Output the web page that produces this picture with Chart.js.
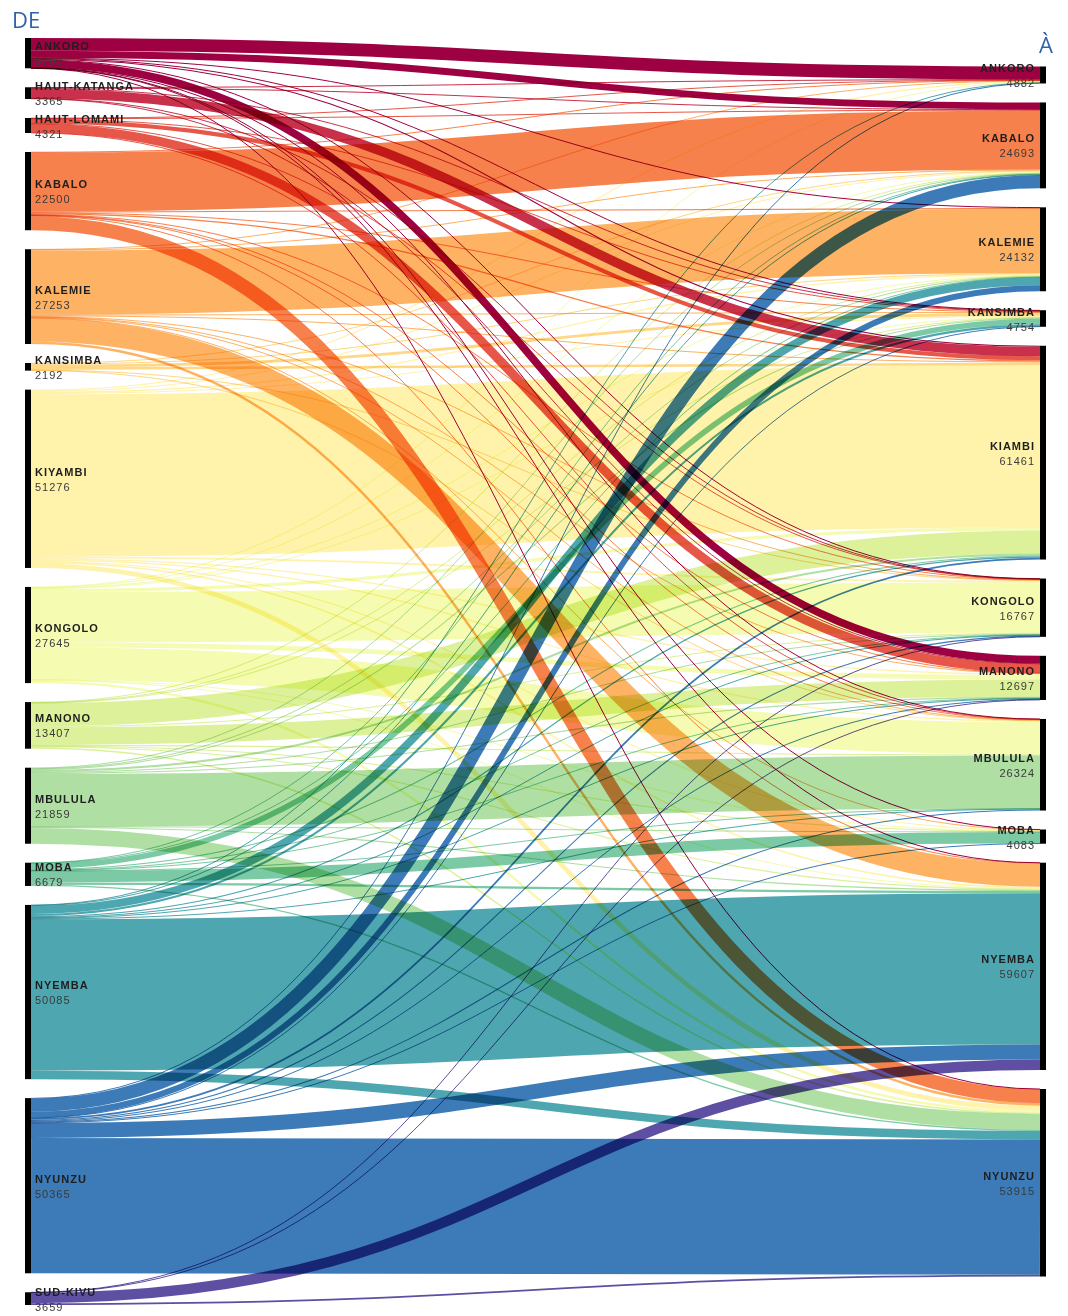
<!DOCTYPE html>
<html>
<head>
<meta charset="utf-8">
<title>DE / À</title>
<script src="https://cdn.jsdelivr.net/npm/chart.js@4.4.1/dist/chart.umd.min.js"></script>
<style>
  html, body { margin: 0; padding: 0; background: #fff; }
  #wrap { width: 1068px; height: 1316px; position: relative; }
</style>
</head>
<body>
<div id="wrap"><canvas id="flowChart"></canvas></div>
<script>
// ── Data ───────────────────────────────────────────────────
const sourceNames = ['ANKORO', 'HAUT-KATANGA', 'HAUT-LOMAMI', 'KABALO', 'KALEMIE', 'KANSIMBA', 'KIYAMBI',
                     'KONGOLO', 'MANONO', 'MBULULA', 'MOBA', 'NYEMBA', 'NYUNZU', 'SUD-KIVU'];
const targetNames = ['ANKORO', 'KABALO', 'KALEMIE', 'KANSIMBA', 'KIAMBI', 'KONGOLO', 'MANONO',
                     'MBULULA', 'MOBA', 'NYEMBA', 'NYUNZU'];

// flows out of each source, in targetNames order (estimated)
const fromAnkoro      = [3700, 2000,   150,  100,   300,   100,  2200,    50,   30,    50,    29];
const fromHautKatanga = [ 150,  150,     0,  150,  2705,    60,   150,     0,    0,     0,     0];
const fromHautLomami  = [ 102,  143,     0,  154,  1182,    60,  2600,    80,    0,     0,     0];
const fromKabalo      = [ 150, 17000,  300,  150,   350,   150,   100,   100,    0,   150,  4050];
const fromKalemie     = [ 100,  300, 18400,  200,   300,   150,   100,   200,  100,  6700,   703];
const fromKansimba    = [   0,  200,   300,  800,   692,   100,     0,   100,    0,     0,     0];
const fromKiyambi     = [ 330,  300,   382,  300, 46691,   500,   350,   350,  300,   430,  1343];
const fromKongolo     = [ 100,  200,   150,  200,   862, 14497,  1297,  9344,  100,   200,   695];
const fromManono      = [   0,  100,   150,  100,  6650,   300,  5000,   300,  100,   300,   407];
const fromMbulula     = [   0,  200,   200,  300,   550,   200,   300, 15200,  100,   300,  4509];
const fromMoba        = [   0,  100,   100, 1600,   330,   100,   100,   100, 3238,   662,   349];
const fromNyemba      = [ 100,  200,  2300,  600,   350,   200,   200,   200,    0, 43500,  2435];
const fromNyunzu      = [ 150, 3800,  1700,  100,   499,   300,   200,   300,  115,  4315, 38886];
const fromSudKivu     = [   0,    0,     0,    0,     0,    50,   100,     0,    0,  3000,   509];

const flowRows = [fromAnkoro, fromHautKatanga, fromHautLomami, fromKabalo, fromKalemie, fromKansimba,
                  fromKiyambi, fromKongolo, fromManono, fromMbulula, fromMoba, fromNyemba, fromNyunzu, fromSudKivu];

// ── Colours (spectral ramp) ────────────────────────────────
const spectralStops = ['#9e0142', '#d53e4f', '#f46d43', '#fdae61', '#fee08b', '#ffffbf',
                       '#e6f598', '#abdda4', '#66c2a5', '#3288bd', '#5e4fa2'];
function hexRgb(h) { return [1, 3, 5].map(i => parseInt(h.substr(i, 2), 16)); }
function spectral(t) {
  const s = t * (spectralStops.length - 1);
  const i = Math.min(spectralStops.length - 2, Math.floor(s));
  const f = s - i;
  const a = hexRgb(spectralStops[i]), b = hexRgb(spectralStops[i + 1]);
  const c = a.map((v, k) => Math.round(v + (b[k] - v) * f));
  return `rgb(${c[0]},${c[1]},${c[2]})`;
}
const sourceColors = sourceNames.map((_, i) => spectral(i / (sourceNames.length - 1)));

// ── Layout helpers ─────────────────────────────────────────
const NODE_GAP = 5460;   // gap between nodes, in flow units
const NODE_W = 6;        // px

const sum = a => a.reduce((s, v) => s + v, 0);
const srcTotals = flowRows.map(sum);
const tgtTotals = targetNames.map((_, j) => sum(flowRows.map(r => r[j])));
const leftSpan = sum(srcTotals) + (srcTotals.length - 1) * NODE_GAP;
const rightSpan = sum(tgtTotals) + (tgtTotals.length - 1) * NODE_GAP;
const yMax = Math.max(leftSpan, rightSpan);

function stackNodes(totals, span) {
  let y = (yMax - span) / 2;
  return totals.map(v => {
    const n = { y0: y, y1: y + v, value: v };
    y += v + NODE_GAP;
    return n;
  });
}
const leftNodes = stackNodes(srcTotals, leftSpan);
const rightNodes = stackNodes(tgtTotals, rightSpan);

// links: ordered by target at the source, by source at the target
const links = [];
flowRows.forEach((row, i) => {
  let cur = leftNodes[i].y0;
  row.forEach((v, j) => {
    if (v <= 0) return;
    links.push({ s: i, t: j, value: v, sy: cur + v / 2 });
    cur += v;
  });
});
targetNames.forEach((_, j) => {
  let cur = rightNodes[j].y0;
  links.filter(l => l.t === j).sort((a, b) => a.s - b.s).forEach(l => {
    l.ty = cur + l.value / 2;
    cur += l.value;
  });
});

// ── Sankey drawing plugin ──────────────────────────────────
const sankeyPlugin = {
  id: 'sankey',
  beforeDraw(chart) {
    const ctx = chart.ctx;
    ctx.save();
    ctx.fillStyle = '#fff';
    ctx.fillRect(0, 0, chart.width, chart.height);
    ctx.restore();
  },
  afterDraw(chart) {
    const { ctx, scales: { x, y } } = chart;
    const xl = x.getPixelForValue(0);
    const xr = x.getPixelForValue(1);
    const lx = xl + NODE_W, rx = xr - NODE_W;
    const xm = (lx + rx) / 2;

    // flows
    ctx.save();
    ctx.globalCompositeOperation = 'multiply';
    ctx.lineCap = 'butt';
    links.forEach(l => {
      const y0 = y.getPixelForValue(l.sy);
      const y1 = y.getPixelForValue(l.ty);
      const w = Math.abs(y.getPixelForValue(l.value) - y.getPixelForValue(0));
      ctx.beginPath();
      ctx.moveTo(lx, y0);
      ctx.bezierCurveTo(xm, y0, xm, y1, rx, y1);
      ctx.strokeStyle = sourceColors[l.s];
      ctx.lineWidth = Math.max(1, w);
      ctx.stroke();
    });
    ctx.restore();

    // node bars + labels
    ctx.save();
    const drawLabel = (name, value, px, mid, align) => {
      ctx.textAlign = align;
      ctx.textBaseline = 'middle';
      ctx.letterSpacing = '1px';
      ctx.fillStyle = '#1e1e1e';
      ctx.font = 'bold 11px "Liberation Sans", Arial, sans-serif';
      ctx.fillText(name, px, mid - 6);
      ctx.fillStyle = '#3a3a3a';
      ctx.font = '11px "Liberation Sans", Arial, sans-serif';
      ctx.fillText(String(value), px, mid + 9);
    };
    leftNodes.forEach((n, i) => {
      const t = y.getPixelForValue(n.y0), b = y.getPixelForValue(n.y1);
      ctx.fillStyle = '#000';
      ctx.fillRect(xl, t, NODE_W, b - t);
      drawLabel(sourceNames[i], n.value, xl + NODE_W + 4, (t + b) / 2, 'left');
    });
    rightNodes.forEach((n, j) => {
      const t = y.getPixelForValue(n.y0), b = y.getPixelForValue(n.y1);
      ctx.fillStyle = '#000';
      ctx.fillRect(xr - NODE_W, t, NODE_W, b - t);
      drawLabel(targetNames[j], n.value, xr - NODE_W - 5, (t + b) / 2, 'right');
    });

    // column headings
    ctx.letterSpacing = '0px';
    ctx.fillStyle = '#2f62ac';
    ctx.font = '22px "Open Sans", "DejaVu Sans", sans-serif';
    ctx.textBaseline = 'alphabetic';
    ctx.textAlign = 'left';
    ctx.fillText('DE', 12, 28);
    ctx.textAlign = 'right';
    ctx.fillText('À', 1053, 53);
    ctx.restore();
  }
};

// ── Chart ──────────────────────────────────────────────────
new Chart(document.getElementById('flowChart'), {
  type: 'scatter',
  data: { datasets: [] },
  options: {
    responsive: true,
    maintainAspectRatio: false,
    animation: false,
    layout: { padding: { left: 25, right: 22, top: 38, bottom: 11 } },
    plugins: { legend: { display: false }, tooltip: { enabled: false } },
    scales: {
      x: { type: 'linear', min: 0, max: 1, display: false },
      y: { type: 'linear', min: 0, max: yMax, reverse: true, display: false }
    }
  },
  plugins: [sankeyPlugin]
});
</script>
</body>
</html>
